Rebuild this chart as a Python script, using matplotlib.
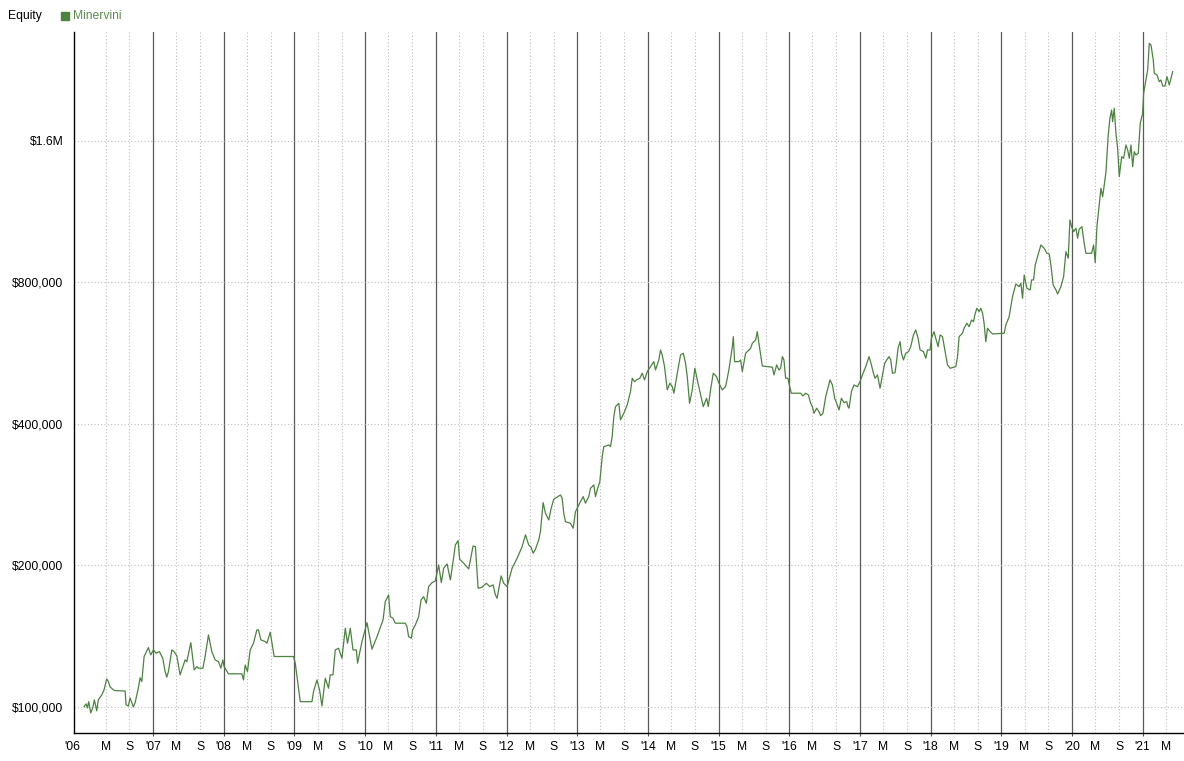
import numpy as np
import matplotlib
matplotlib.use("Agg")
import matplotlib.pyplot as plt
from matplotlib.lines import Line2D

plt.rcParams['font.family'] = ['Liberation Sans', 'DejaVu Sans']

# ---- data (decimal year, equity in $ thousands) ----
dates = [
    2006.023, 2006.051, 2006.070, 2006.089, 2006.118, 2006.146, 2006.169, 2006.203, 2006.225, 2006.274,
    2006.306, 2006.344, 2006.367, 2006.391, 2006.438, 2006.462, 2006.604, 2006.618, 2006.650, 2006.674,
    2006.721, 2006.745, 2006.792, 2006.816, 2006.840, 2006.873, 2006.933, 2006.967, 2007.004, 2007.042,
    2007.089, 2007.137, 2007.170, 2007.194, 2007.217, 2007.265, 2007.297, 2007.336, 2007.382, 2007.421,
    2007.453, 2007.477, 2007.534, 2007.581, 2007.619, 2007.641, 2007.704, 2007.736, 2007.783, 2007.831,
    2007.878, 2007.925, 2007.959, 2007.987, 2008.005, 2008.066, 2008.256, 2008.279, 2008.303, 2008.335,
    2008.374, 2008.420, 2008.468, 2008.491, 2008.525, 2008.586, 2008.610, 2008.657, 2008.713, 2008.987,
    2009.011, 2009.082, 2009.247, 2009.270, 2009.318, 2009.355, 2009.389, 2009.436, 2009.482, 2009.506,
    2009.545, 2009.577, 2009.624, 2009.672, 2009.719, 2009.751, 2009.790, 2009.828, 2009.875, 2009.893,
    2009.955, 2010.026, 2010.097, 2010.168,
    2010.253, 2010.285, 2010.332, 2010.356, 2010.394, 2010.427, 2010.568, 2010.592, 2010.615, 2010.653,
    2010.672, 2010.710, 2010.757, 2010.791, 2010.827, 2010.866, 2010.898, 2010.946, 2010.993, 2011.040,
    2011.078, 2011.111, 2011.159, 2011.206, 2011.244, 2011.276, 2011.315, 2011.337, 2011.394, 2011.465,
    2011.527, 2011.560, 2011.598, 2011.654, 2011.715, 2011.762, 2011.810, 2011.843, 2011.867, 2011.924,
    2011.960, 2012.008, 2012.079, 2012.150, 2012.221, 2012.268, 2012.314, 2012.348, 2012.377, 2012.409,
    2012.456, 2012.480, 2012.518, 2012.551, 2012.598, 2012.632, 2012.668, 2012.763, 2012.787, 2012.810,
    2012.834, 2012.905, 2012.943, 2012.976, 2013.046, 2013.085, 2013.117, 2013.164, 2013.188, 2013.235,
    2013.259, 2013.283, 2013.320,
    2013.354, 2013.376, 2013.447, 2013.471, 2013.495, 2013.518, 2013.542, 2013.589, 2013.613, 2013.660,
    2013.708, 2013.754, 2013.779, 2013.811, 2013.839, 2013.886, 2013.920, 2013.953, 2013.991, 2014.038,
    2014.084, 2014.108, 2014.155, 2014.179, 2014.203, 2014.236, 2014.274, 2014.311, 2014.345, 2014.368,
    2014.416, 2014.462, 2014.501, 2014.533, 2014.557, 2014.590, 2014.628, 2014.665, 2014.699, 2014.736,
    2014.784, 2014.831, 2014.855, 2014.887, 2014.925, 2014.972, 2015.005, 2015.053, 2015.100, 2015.146,
    2015.195, 2015.209, 2015.227, 2015.288, 2015.312, 2015.336, 2015.383, 2015.454, 2015.478, 2015.524,
    2015.548, 2015.571, 2015.619, 2015.761, 2015.784, 2015.822, 2015.854,
    2015.878, 2015.903, 2015.925, 2015.949, 2015.982, 2016.006, 2016.030, 2016.162, 2016.194, 2016.232,
    2016.271, 2016.303, 2016.327, 2016.350, 2016.388, 2016.421, 2016.445, 2016.477, 2016.516, 2016.540,
    2016.577, 2016.611, 2016.643, 2016.671, 2016.704, 2016.738, 2016.775, 2016.813, 2016.831, 2016.846,
    2016.880, 2016.916, 2016.965, 2017.001, 2017.035, 2017.082, 2017.129, 2017.163, 2017.191, 2017.214,
    2017.248, 2017.285, 2017.319, 2017.351, 2017.379, 2017.412, 2017.436, 2017.460, 2017.497, 2017.521,
    2017.539, 2017.568, 2017.588, 2017.616, 2017.648, 2017.687, 2017.719, 2017.757, 2017.790, 2017.823,
    2017.851, 2017.899, 2017.932, 2017.956, 2017.993, 2018.012, 2018.049, 2018.073, 2018.106, 2018.134,
    2018.168, 2018.201, 2018.239, 2018.276, 2018.357, 2018.381, 2018.403, 2018.451, 2018.474, 2018.512,
    2018.545, 2018.579, 2018.607, 2018.626, 2018.654, 2018.687, 2018.711, 2018.735, 2018.757, 2018.781,
    2018.805, 2018.842, 2018.876,
    2019.041, 2019.065, 2019.111, 2019.159, 2019.206, 2019.253, 2019.277, 2019.301, 2019.324, 2019.362,
    2019.409, 2019.428, 2019.457, 2019.480, 2019.513, 2019.560, 2019.607, 2019.645, 2019.678, 2019.702,
    2019.734, 2019.773, 2019.797, 2019.843, 2019.882, 2019.914, 2019.947, 2019.971, 2019.995, 2020.023,
    2020.056, 2020.080, 2020.102, 2020.141, 2020.173, 2020.197, 2020.278, 2020.306, 2020.329, 2020.353,
    2020.386, 2020.410, 2020.434, 2020.457, 2020.481, 2020.513, 2020.537, 2020.561, 2020.575, 2020.598,
    2020.622, 2020.646, 2020.669, 2020.703, 2020.731, 2020.764, 2020.788, 2020.811, 2020.835, 2020.859,
    2020.881, 2020.905, 2020.938, 2020.966, 2021.000, 2021.014, 2021.047, 2021.071, 2021.094, 2021.118,
    2021.150, 2021.165, 2021.203, 2021.235, 2021.259, 2021.283, 2021.316, 2021.344, 2021.377, 2021.401,
    2021.425,
]

equity_k = [
    100.1, 101.5, 99.5, 102.6, 97.1, 99.5, 103.5, 98.1, 103.5, 106.1,
    108.7, 114.7, 113.2, 110.3, 108.7, 108.3, 108.1, 101.0, 100.5, 104.5,
    100.0, 102.0, 109.8, 115.3, 113.2, 128.0, 133.7, 129.0, 132.2, 130.1,
    131.1, 126.9, 118.9, 115.7, 118.9, 132.2, 131.1, 128.4, 117.0, 121.8,
    125.9, 124.8, 137.0, 119.9, 121.8, 120.9, 120.9, 128.0, 142.3, 131.1,
    125.9, 124.8, 120.9, 125.9, 121.8, 117.6, 117.6, 114.1, 122.8, 118.9,
    132.2, 136.6, 145.8, 145.8, 138.9, 137.7, 136.6, 144.2, 128.0, 128.0,
    123.9, 102.6, 102.6, 107.8, 114.1, 108.7, 100.5, 115.1, 109.6, 117.0,
    117.0, 132.2, 133.3, 126.9, 147.0, 136.6, 147.0, 132.2, 132.2, 123.9,
    137.7, 151.1, 132.7, 141.1,
    153.1, 167.5, 173.1, 155.6, 154.4, 150.7, 150.7, 148.2, 141.1, 140.0,
    145.8, 149.4, 155.6, 168.9, 171.6, 166.2, 180.3, 183.8, 185.4, 200.5,
    183.8, 197.3, 201.5, 186.3, 203.8, 221.1, 225.8, 206.2, 202.2, 196.6,
    220.0, 219.3, 178.9, 179.7, 183.3, 180.3, 181.8, 173.1, 170.3, 190.0,
    183.3, 180.3, 197.3, 207.2, 219.3, 232.3, 221.1, 218.6, 212.3, 216.5,
    226.6, 236.0, 272.1, 258.3, 249.9, 264.7, 276.6, 282.5, 278.0, 258.3,
    247.8, 245.9, 240.0, 260.3, 273.4, 280.2, 271.3, 280.2, 291.9, 296.7,
    280.2, 289.5, 301.5,
    340.8, 357.9, 360.9, 357.9, 375.8, 414.6, 435.4, 442.7, 408.0, 421.6,
    439.0, 468.7, 500.4, 492.1, 496.3, 500.4, 512.8, 496.3, 516.8, 529.7,
    542.8, 521.2, 547.3, 574.8, 560.8, 529.7, 472.6, 488.3, 480.2, 465.0,
    512.8, 560.8, 565.5, 538.5, 504.3, 442.7, 472.6, 525.5, 496.3, 468.7,
    435.4, 453.7, 435.4, 472.6, 512.8, 504.3, 488.3, 472.6, 480.2, 521.2,
    584.1, 613.5, 542.8, 542.8, 547.3, 516.8, 565.5, 579.6, 593.9, 603.6,
    628.7, 593.9, 531.5, 528.1, 508.6, 534.1, 521.2,
    525.5, 556.2, 547.3, 500.4, 500.4, 480.2, 465.0, 465.0, 458.8, 465.0,
    461.1, 442.7, 435.4, 421.6, 432.0, 424.9, 416.6, 421.6, 457.2, 472.6,
    496.3, 484.2, 453.7, 442.7, 428.4, 453.7, 444.0, 446.2, 435.4, 432.0,
    468.7, 484.2, 480.2, 492.1, 508.6, 529.7, 556.2, 534.1, 512.8, 500.4,
    508.6, 476.5, 508.6, 538.5, 547.3, 556.2, 547.3, 512.8, 514.3, 547.3,
    579.6, 598.6, 565.5, 547.3, 565.5, 570.1, 584.1, 618.6, 633.9, 608.7,
    574.8, 570.1, 551.8, 574.8, 574.8, 608.7, 628.7, 608.7, 584.1, 618.6,
    613.5, 574.8, 534.1, 525.5, 529.7, 556.2, 613.5, 623.8, 639.2, 655.1,
    644.2, 665.8, 660.3, 682.3, 705.1, 693.4, 705.1, 688.0, 655.1, 598.6,
    639.2, 628.7, 621.6,
    623.8, 649.7, 676.6, 746.4, 794.2, 783.7, 796.9, 740.5, 830.0, 777.6,
    771.2, 809.9, 809.9, 871.6, 907.8, 961.3, 945.9, 923.1, 919.9, 871.6,
    790.2, 771.2, 756.2, 783.7, 823.1, 930.3, 900.7, 1086.6, 1051.5, 1026.1,
    1043.3, 993.5, 1038.3, 1051.5, 969.3, 923.1, 923.1, 961.3, 881.5, 1051.5,
    1169.5, 1269.0, 1217.9, 1289.7, 1376.6, 1647.4, 1788.2, 1862.4, 1758.7, 1878.0,
    1661.1, 1543.8, 1343.3, 1481.5, 1470.0, 1569.0, 1531.0, 1470.0, 1569.0, 1410.7,
    1518.3, 1493.9, 1506.4, 1745.0, 1832.5, 2021.1, 2157.1, 2265.4, 2582.3, 2560.7,
    2379.3, 2229.1, 2210.6, 2139.3, 2157.1, 2094.6, 2094.6, 2192.4, 2104.9, 2175.2,
    2246.7,
]

series_name = "Minervini"
chart_title = "Equity"

y_ticks = [100000, 200000, 400000, 800000, 1600000]
y_tick_labels = ["$100,000", "$200,000", "$400,000", "$800,000", "$1.6M"]

year_ticks = list(range(2007, 2022))
year_labels = ["'%02d" % (y % 100) for y in year_ticks]
month_ticks = []
month_labels = []
for yr in range(2006, 2022):
    month_ticks += [yr + 0.329, yr + 0.666]
    month_labels += ["M", "S"]

x_start, x_end = 2005.881, 2021.585
y_low, y_high = 88000, 2729000

# ---- figure ----
W, H = 1184, 761
fig = plt.figure(figsize=(W / 100, H / 100), dpi=100)
ax = fig.add_axes([74 / W, 28 / H, (W - 74) / W, (733 - 32) / H])

line_color = "#4b833f"
equity = np.array(equity_k) * 1000.0
ax.plot(dates, equity, color=line_color, lw=0.9, zorder=3)

ax.set_yscale("log")
ax.set_xlim(x_start, x_end)
ax.set_ylim(y_low, y_high)

ax.yaxis.set_major_locator(matplotlib.ticker.FixedLocator(y_ticks))
ax.yaxis.set_minor_locator(matplotlib.ticker.NullLocator())
ax.set_yticks(y_ticks)
ax.set_yticklabels(y_tick_labels)

mt = [m for m in month_ticks if x_start < m < x_end]
ml = [l for m, l in zip(month_ticks, month_labels) if x_start < m < x_end]
ax.set_xticks(year_ticks)
ax.set_xticklabels(year_labels)
ax.set_xticks(mt, minor=True)
ax.set_xticklabels(ml, minor=True)

fs = 8.7
ax.tick_params(axis="x", which="major", length=2.5, width=0.8, color="#555555",
               pad=3.0, labelsize=fs, labelcolor="#000000")
ax.tick_params(axis="x", which="minor", length=0, pad=5.5, labelsize=fs, labelcolor="#000000")
ax.tick_params(axis="y", which="major", length=0, pad=7.8, labelsize=fs, labelcolor="#000000")

ax.grid(axis="x", which="major", color="#5a5a5a", lw=0.9, ls="-", zorder=1)
ax.grid(axis="x", which="minor", color="#bdbdbd", lw=0.8, ls=(0, (1, 2)), zorder=1)
ax.grid(axis="y", which="major", color="#bdbdbd", lw=0.8, ls=(0, (1, 2)), zorder=1)

for s in ("top", "right"):
    ax.spines[s].set_visible(False)
for s in ("left", "bottom"):
    ax.spines[s].set_color("#000000")
    ax.spines[s].set_linewidth(1.0)

# left label "'06" at axis start
ax.annotate("'06", xy=(x_start, 0), xycoords=ax.get_xaxis_transform(),
            xytext=(-1, -5.5), textcoords="offset points",
            ha="center", va="top", fontsize=fs, color="#000000")

# header
fig.text(8 / W, 1 - 16 / H, chart_title, fontsize=fs, color="#000000", va="center", ha="left")
fig.add_artist(Line2D([65 / W], [1 - 15.5 / H], marker="s", markersize=5.5,
                      color="#4b833f", lw=0, transform=fig.transFigure))
fig.text(73 / W, 1 - 16 / H, series_name, fontsize=fs, color="#5f8f52", va="center", ha="left")

fig.savefig("out.png", dpi=100)
